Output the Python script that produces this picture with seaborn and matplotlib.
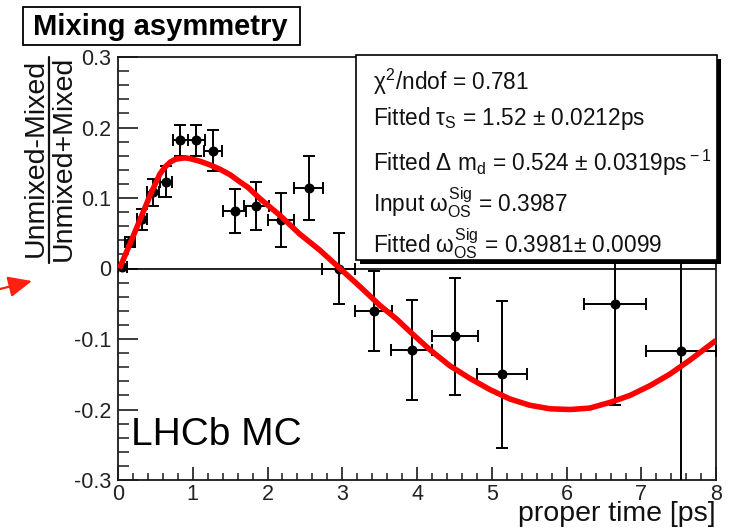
import matplotlib
matplotlib.use("Agg")
import matplotlib.pyplot as plt
from matplotlib.patches import Rectangle, FancyArrowPatch
from matplotlib.lines import Line2D
from matplotlib.ticker import MultipleLocator
import seaborn as sns

# Binned asymmetry measurements (bin centre, value, half bin width, error)
time_ps = [0.06, 0.16, 0.32, 0.47, 0.64, 0.83, 1.05, 1.27, 1.56, 1.85,
           2.18, 2.55, 2.95, 3.42, 3.93, 4.51, 5.14, 6.65, 7.53]
asym = [0.002, 0.037, 0.070, 0.108, 0.123, 0.182, 0.182, 0.167, 0.082, 0.088,
        0.069, 0.114, 0.000, -0.060, -0.115, -0.096, -0.150, -0.050, -0.117]
time_halfwidth = [0.06, 0.067, 0.067, 0.08, 0.08, 0.10, 0.11, 0.12, 0.155, 0.167,
                  0.18, 0.195, 0.22, 0.245, 0.273, 0.31, 0.333, 0.413, 0.467]
asym_err = [0.004, 0.007, 0.015, 0.019, 0.022, 0.022, 0.022, 0.029, 0.031, 0.034,
            0.038, 0.045, 0.050, 0.057, 0.071, 0.083, 0.104, 0.143, 0.25]

# Fitted asymmetry curve
fit_time = [0.02, 0.16, 0.29, 0.43, 0.56, 0.63, 0.70, 0.77, 0.83, 0.90, 0.96,
            1.03, 1.10, 1.23, 1.36, 1.50, 1.63, 1.74, 1.90, 2.17, 2.43, 2.70,
            2.97, 3.24, 3.50, 3.73, 3.91, 4.17, 4.44, 4.71, 4.98, 5.24, 5.51,
            5.78, 6.05, 6.31, 6.58, 6.85, 7.12, 7.38, 7.65, 8.00]
fit_asym = [0.000, 0.035, 0.068, 0.104, 0.134, 0.144, 0.151, 0.155, 0.156, 0.157,
            0.156, 0.154, 0.152, 0.147, 0.141, 0.133, 0.123, 0.115, 0.099, 0.075,
            0.049, 0.026, 0.000, -0.026, -0.052, -0.072, -0.090, -0.115, -0.138,
            -0.156, -0.172, -0.185, -0.194, -0.199, -0.200, -0.198, -0.190,
            -0.180, -0.166, -0.150, -0.130, -0.102]

x_ticks = [0, 1, 2, 3, 4, 5, 6, 7, 8]
x_tick_labels = ["0", "1", "2", "3", "4", "5", "6", "7", "8"]
y_ticks = [-0.3, -0.2, -0.1, 0.0, 0.1, 0.2, 0.3]
y_tick_labels = ["-0.3", "-0.2", "-0.1", "0", "0.1", "0.2", "0.3"]

stats_lines = [
    r"$\chi^{2}$/ndof = 0.781",
    r"Fitted $\tau_{\rm S}$ = 1.52 $\pm$ 0.0212ps",
    r"Fitted $\Delta$ m$_{\rm d}$ = 0.524 $\pm$ 0.0319ps$^{\rm -1}$",
    r"Input $\omega^{\rm Sig}_{\rm OS}$ = 0.3987",
    r"Fitted $\omega^{\rm Sig}_{\rm OS}$ = 0.3981$\pm$ 0.0099",
]

sns.set_theme(style="white")
plt.rcParams["font.family"] = ["Liberation Sans", "DejaVu Sans"]
plt.rcParams["mathtext.fontset"] = "custom"
plt.rcParams["mathtext.rm"] = "Liberation Sans"
plt.rcParams["mathtext.it"] = "Liberation Sans"
plt.rcParams["mathtext.bf"] = "Liberation Sans:bold"

W, H = 729, 529


def fx(px):
    return px / W


def fy(py):
    return 1 - py / H


fig = plt.figure(figsize=(W / 100, H / 100), dpi=100)
ax = fig.add_axes([fx(118), fy(480), (716 - 118) / W, (480 - 57) / H])

# zero line
ax.axhline(0, color="black", lw=1.2, zorder=2)

# data points with error bars
ax.errorbar(time_ps, asym, xerr=time_halfwidth, yerr=asym_err, fmt="none",
            ecolor="black", elinewidth=1.4, capsize=4.3, capthick=1.4, zorder=4)
sns.scatterplot(x=time_ps, y=asym, color="black", s=52, edgecolor="black",
                linewidth=0, zorder=5, ax=ax, legend=False)

# fit curve
sns.lineplot(x=fit_time, y=fit_asym, color="#ff0000", lw=4, sort=False,
             estimator=None, zorder=6, ax=ax, legend=False,
             solid_capstyle="butt", solid_joinstyle="round")

ax.set_xlim(0, 8)
ax.set_ylim(-0.3, 0.3)
ax.set_xticks(x_ticks, x_tick_labels)
ax.set_yticks(y_ticks, y_tick_labels)
ax.xaxis.set_minor_locator(MultipleLocator(0.2))
ax.yaxis.set_minor_locator(MultipleLocator(0.02))
ax.set_xlabel("")
ax.set_ylabel("")

ax.tick_params(axis="x", which="major", direction="in", length=9.6, width=1.2,
               color="#1a1a1a", labelsize=15.5, labelcolor="#222222", pad=3,
               bottom=True, top=False)
ax.tick_params(axis="x", which="minor", direction="in", length=4.8, width=1.1,
               color="#1a1a1a", bottom=True, top=False)
ax.tick_params(axis="y", which="major", direction="in", length=14.4, width=1.2,
               color="#1a1a1a", labelsize=15.5, labelcolor="#222222", pad=5,
               left=True, right=False)
ax.tick_params(axis="y", which="minor", direction="in", length=7.9, width=1.1,
               color="#1a1a1a", left=True, right=False)

for sp in ax.spines.values():
    sp.set_visible(True)
    sp.set_color("#1a1a1a")
    sp.set_linewidth(1.3)

# statistics box with drop shadow
bx0 = (356 - 118) / 598
bx1 = (716.5 - 118) / 598
by0 = (480 - 260) / 423
by1 = (480 - 55) / 423
shadow = Rectangle((bx0 + 4 / 598, by0 - 4 / 423), bx1 - bx0, by1 - by0,
                   transform=ax.transAxes, facecolor="black", edgecolor="black",
                   lw=0, zorder=9, clip_on=False)
box = Rectangle((bx0, by0), bx1 - bx0, by1 - by0, transform=ax.transAxes,
                facecolor="white", edgecolor="black", lw=1.2, zorder=10,
                clip_on=False)
ax.add_patch(shadow)
ax.add_patch(box)
line_y = [81.7, 118, 163, 203, 244]
for txt, py in zip(stats_lines, line_y):
    ax.text((373 - 118) / 598, (480 - py) / 423, txt, transform=ax.transAxes,
            fontsize=16.3, ha="left", va="center", color="#111111", zorder=11)

# LHCb label
fig.text(fx(131), fy(445), "LHCb MC", fontsize=28, ha="left", va="baseline",
         color="black")

# x axis title
fig.text(fx(716), fy(521), "proper time [ps]", fontsize=20.5, ha="right",
         va="baseline", color="#111111")

# y axis title as a fraction
fig.text(fx(43), fy(158), "Unmixed-Mixed", fontsize=20.5, rotation=90,
         rotation_mode="anchor", ha="center", va="baseline", color="#111111")
fig.text(fx(71), fy(158), "Unmixed+Mixed", fontsize=20.5, rotation=90,
         rotation_mode="anchor", ha="center", va="baseline", color="#111111")
fig.add_artist(Line2D([fx(48.5), fx(48.5)], [fy(57), fy(263)],
                      transform=fig.transFigure, color="#111111", lw=1.6))

# plot title in a frame
fig.add_artist(Rectangle((fx(22.7), fy(45)), (300 - 22.7) / W, (45 - 6.7) / H,
                         transform=fig.transFigure, fill=False,
                         edgecolor="black", lw=1.3))
fig.text(fx(160), fy(35), "Mixing asymmetry", fontsize=21, fontweight="bold",
         ha="center", va="baseline", color="black")

# pointer arrow toward the zero level
fig.add_artist(FancyArrowPatch(
    (fx(0), fy(289)), (fx(32), fy(281)), transform=fig.transFigure,
    arrowstyle="-|>,head_length=0.9,head_width=0.4", mutation_scale=16,
    color="#ff2010", lw=1.6, shrinkA=0, shrinkB=0))

fig.savefig("out.png", dpi=100)
